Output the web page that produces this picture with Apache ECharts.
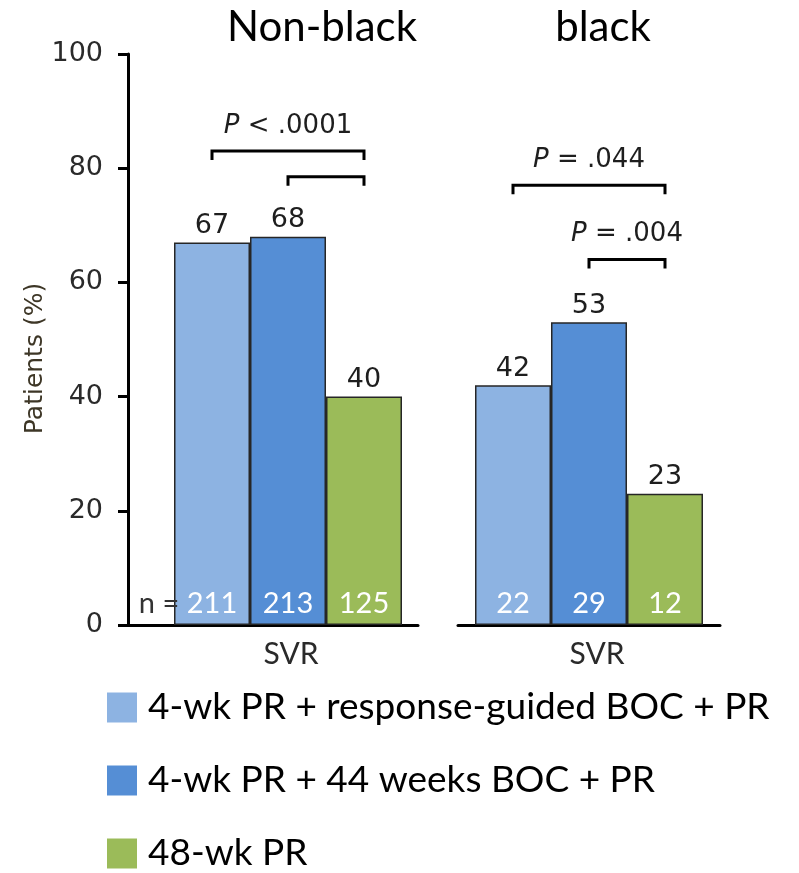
<!DOCTYPE html>
<html>
<head>
<meta charset="utf-8">
<script src="https://cdn.jsdelivr.net/npm/echarts/dist/echarts.min.js"></script>
<style>
  html, body { margin: 0; padding: 0; background: #fff; }
  #chart { width: 799px; height: 873px; }
</style>
</head>
<body>
<div id="chart"></div>
<script>
// SVR rates by race group and treatment arm
const groups = ['Non-black', 'black'];
const category = ['SVR'];
const treatments = ['4-wk PR + response-guided BOC + PR', '4-wk PR + 44 weeks BOC + PR', '48-wk PR'];
const svrNonBlack = [67, 68, 40];
const svrBlack = [42, 53, 23];
const nNonBlack = [211, 213, 125];
const nBlack = [22, 29, 12];
const yMin = 0, yMax = 100, yStep = 20;
const colors = ['#8DB3E2', '#558ED5', '#9BBB59'];

// pairwise comparisons: group index, bar indices, bracket height (%), p-value text
const comparisons = [
  { group: 0, from: 0, to: 2, level: 83, text: '< .0001' },
  { group: 0, from: 1, to: 2, level: 78.5, text: '' },
  { group: 1, from: 0, to: 2, level: 77, text: '= .044' },
  { group: 1, from: 1, to: 2, level: 64, text: '= .004' }
];

const svrByGroup = [svrNonBlack, svrBlack];
const nByGroup = [nNonBlack, nBlack];

const numFont = "'DejaVu Sans', Verdana, sans-serif";
const textFont = "Lato, 'Open Sans', sans-serif";
const ink = '#1e1e1e';

const chart = echarts.init(document.getElementById('chart'), null, { renderer: 'canvas' });

const series = [];
const seriesIndexOf = [[], []];

// spacer slot in front of the first group holding the "n =" caption
series.push({
  type: 'bar',
  xAxisIndex: 0,
  yAxisIndex: 0,
  barWidth: 30,
  silent: true,
  data: ['-'],
  markPoint: {
    symbol: 'circle',
    symbolSize: 1,
    itemStyle: { color: 'rgba(0,0,0,0)' },
    label: {
      show: true, position: 'top', distance: 6, formatter: 'n =',
      fontFamily: textFont, fontSize: 29, color: '#333'
    },
    data: [{ coord: [category[0], 0] }]
  }
});

groups.forEach((g, gi) => {
  treatments.forEach((t, ti) => {
    seriesIndexOf[gi][ti] = series.length;
    series.push({
      name: t,
      type: 'bar',
      xAxisIndex: gi,
      yAxisIndex: gi,
      barWidth: 76,
      barGap: '0%',
      data: [svrByGroup[gi][ti]],
      itemStyle: { color: colors[ti], borderColor: '#262626', borderWidth: 1.5 },
      label: {
        show: true, position: 'top', distance: 3,
        fontFamily: numFont, fontSize: 27, color: ink
      },
      markPoint: {
        symbol: 'circle',
        symbolSize: 1,
        itemStyle: { color: 'rgba(0,0,0,0)' },
        label: {
          show: true, position: 'top', distance: 6, formatter: '{c}',
          fontFamily: textFont, fontSize: 29, color: '#fff'
        },
        data: [{ coord: [category[0], 0], value: nByGroup[gi][ti] }]
      }
    });
  });
});

const axisLineStyle = { color: '#000', width: 3 };

chart.setOption({
  animation: false,
  backgroundColor: '#fff',
  title: [
    { text: groups[0], left: 317, top: 1, textAlign: 'center',
      textStyle: { fontFamily: textFont, fontSize: 42, fontWeight: 'normal', color: '#000' } },
    { text: groups[1], left: 598, top: 1, textAlign: 'center',
      textStyle: { fontFamily: textFont, fontSize: 42, fontWeight: 'normal', color: '#000' } }
  ],
  grid: [
    { left: 128, top: 54, width: 290, height: 571, outerBoundsMode: 'none', containLabel: false },
    { left: 458, top: 54, width: 262, height: 571, outerBoundsMode: 'none', containLabel: false }
  ],
  xAxis: [0, 1].map(gi => ({
    type: 'category',
    gridIndex: gi,
    data: category,
    axisLine: { lineStyle: axisLineStyle },
    axisTick: { show: false },
    axisLabel: {
      fontFamily: textFont, fontSize: 30, color: '#2a2a2a', margin: 14,
      padding: gi === 0 ? [0, 0, 0, 36] : [0, 0, 0, 16]
    },
    splitLine: { show: false }
  })),
  yAxis: [
    {
      type: 'value', gridIndex: 0, min: yMin, max: yMax, interval: yStep,
      axisLine: { show: true, lineStyle: axisLineStyle },
      axisTick: { show: true, length: 10, lineStyle: { color: '#000', width: 3 } },
      axisLabel: { fontFamily: numFont, fontSize: 27, color: '#2a2a2a', margin: 25 },
      splitLine: { show: false },
      name: 'Patients (%)',
      nameLocation: 'middle',
      nameGap: 80,
      nameRotate: 90,
      nameTextStyle: { fontFamily: numFont, fontSize: 25, color: '#3d3626', padding: [0, 38, 0, 0] }
    },
    {
      type: 'value', gridIndex: 1, min: yMin, max: yMax, interval: yStep, show: false,
      splitLine: { show: false }
    }
  ],
  legend: {
    orient: 'vertical',
    left: 107,
    top: 689,
    width: 690,
    height: 184,
    padding: 0,
    itemWidth: 30,
    itemHeight: 30,
    itemGap: 36,
    icon: 'rect',
    selectedMode: false,
    data: treatments,
    itemStyle: { borderWidth: 0 },
    textStyle: { fontFamily: textFont, fontSize: 37, color: '#000', padding: [0, 0, 0, 6] }
  },
  series: series
});

// brackets and p-values placed from the laid-out bars and the y scale
function barCenter(gi, ti) {
  const layout = chart.getModel().getSeriesByIndex(seriesIndexOf[gi][ti]).getData().getItemLayout(0);
  return layout.x + layout.width / 2;
}

const graphics = [];
comparisons.forEach(c => {
  const x1 = barCenter(c.group, c.from);
  const x2 = barCenter(c.group, c.to);
  const y = chart.convertToPixel({ yAxisIndex: c.group }, c.level);
  graphics.push({
    type: 'polyline',
    silent: true,
    shape: { points: [[x1, y + 9], [x1, y], [x2, y], [x2, y + 9]] },
    style: { stroke: '#000', lineWidth: 3, fill: null }
  });
  if (c.text) {
    graphics.push({
      type: 'text',
      silent: true,
      x: (x1 + x2) / 2,
      y: y - 12,
      style: {
        text: '{i|P} ' + c.text,
        align: 'center',
        verticalAlign: 'bottom',
        fontFamily: numFont,
        fontSize: 26,
        fill: ink,
        rich: { i: { fontStyle: 'italic', fontFamily: numFont, fontSize: 26, fill: ink } }
      }
    });
  }
});
chart.setOption({ graphic: graphics });
</script>
</body>
</html>
